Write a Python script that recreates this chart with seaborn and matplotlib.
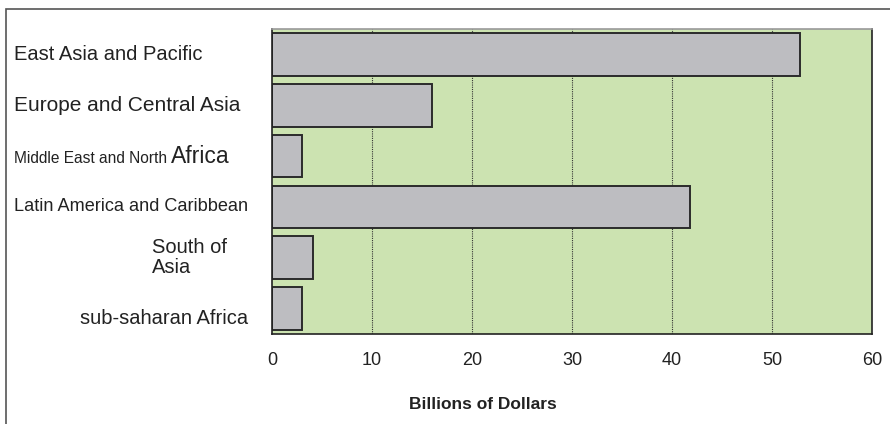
import pandas as pd
import numpy as np
import matplotlib.pyplot as plt
import seaborn as sns
from matplotlib.patches import Rectangle
import matplotlib.transforms as mtransforms

regions = ['East Asia and Pacific', 'Europe and Central Asia',
           'Middle East and North Africa', 'Latin America and Caribbean',
           'South of Asia', 'sub-saharan Africa']
billions = [52.8, 16.0, 3.0, 41.8, 4.1, 3.0]
xticks = [0, 10, 20, 30, 40, 50, 60]

df = pd.DataFrame({'region': regions, 'billions': billions})

sns.set_style('white')
plt.rcParams['font.family'] = ['Liberation Sans', 'DejaVu Sans']

fig = plt.figure(figsize=(8.9, 4.24), dpi=100)
ax = fig.add_axes([272/890, 1-334/424, 600/890, 305/424])
ax.set_facecolor('#cce3b1')

sns.barplot(data=df, y='region', x='billions', orient='h', color='#bdbdc1',
            saturation=1, width=0.84, edgecolor='#2b2b2b', linewidth=1.4, ax=ax)

ax.set_xlim(0, 60)
ax.set_ylim(5.5, -0.5)
ax.set_xticks(xticks)
ax.set_xticklabels([str(t) for t in xticks], fontsize=13, color='#222')
ax.tick_params(axis='x', direction='out', length=6, width=1, color='#222', pad=7)
ax.set_yticks([])
ax.set_yticks(np.arange(-0.5, 6, 1), minor=True)
ax.tick_params(axis='y', which='minor', direction='out', length=8, width=1, color='#222')
ax.set_ylabel('')
ax.set_xlabel('')
ax.text(0.352, -0.23, 'Billions of Dollars', transform=ax.transAxes, fontsize=12.5,
        fontweight='bold', ha='center', va='center', color='#222')

for t in xticks[1:-1]:
    ax.axvline(t, color='#333', linestyle=(0, (1, 1)), linewidth=0.8, zorder=0.5)

for s in ['left', 'bottom', 'right']:
    ax.spines[s].set_color('#222')
    ax.spines[s].set_linewidth(1.2)
ax.spines['top'].set_color('#999')
ax.spines['top'].set_linewidth(1.2)

# region labels with their own sizes and alignment
trans = mtransforms.blended_transform_factory(fig.transFigure, ax.transData)
x_left = 14/890
ax.text(x_left, 0, 'East Asia and Pacific', transform=trans, fontsize=14.5, va='center', ha='left', color='#222')
ax.text(x_left, 1, 'Europe and Central Asia', transform=trans, fontsize=15, va='center', ha='left', color='#222')
t1 = ax.text(x_left, 2.13, 'Middle East and North ', transform=trans, fontsize=11.2, va='baseline', ha='left', color='#222')
fig.canvas.draw()
bb = t1.get_window_extent()
ax.text(bb.x1/fig.bbox.width, 2.13, 'Africa', transform=trans, fontsize=16.5, va='baseline', ha='left', color='#222')
ax.text(x_left, 3, 'Latin America and Caribbean', transform=trans, fontsize=13.1, va='center', ha='left', color='#222')
ax.text(152/890, 4, 'South of\nAsia', transform=trans, fontsize=14.5, va='center', ha='left', color='#222', linespacing=1.05)
ax.text(248/890, 5.2, 'sub-saharan Africa', transform=trans, fontsize=14.5, va='center', ha='right', color='#222')

# outer frame
fig.patches.append(Rectangle((6/890, -0.05), 1.0, 1-9/424+0.05, transform=fig.transFigure,
                             fill=False, edgecolor='#555', linewidth=1.2, figure=fig))

fig.savefig('out.png', dpi=100)
